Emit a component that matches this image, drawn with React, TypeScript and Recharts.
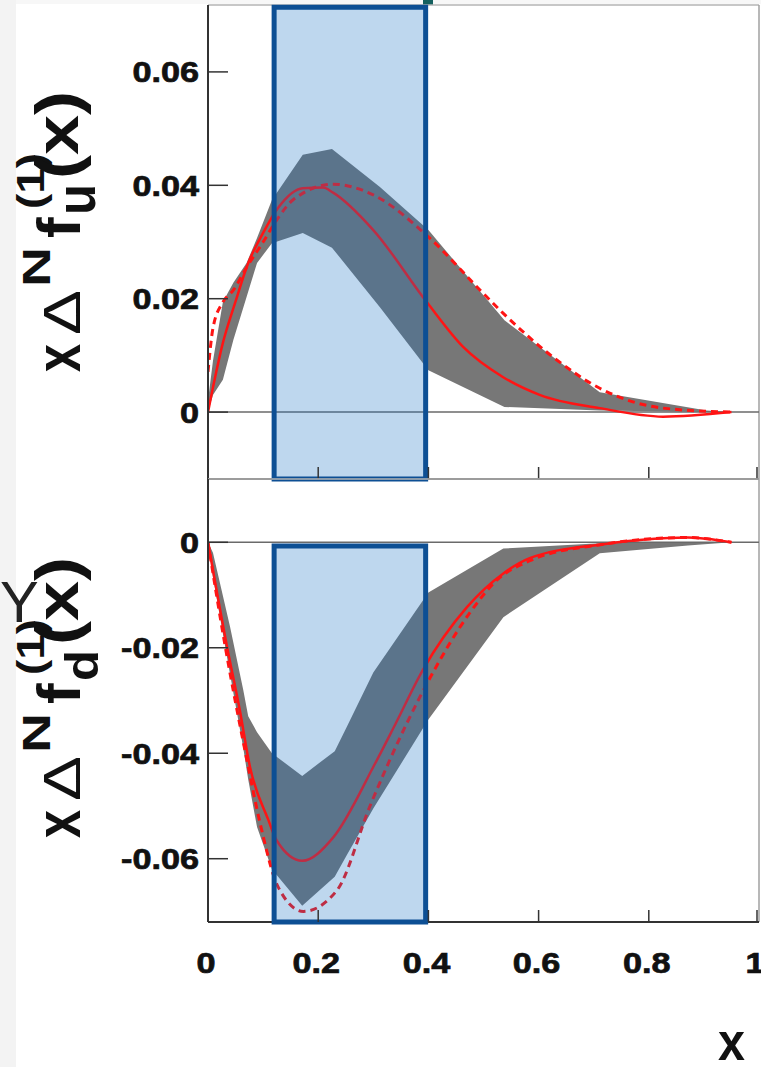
import React from 'react';
import { ComposedChart, Area, Line, XAxis, YAxis, ReferenceLine, ReferenceArea } from 'recharts';

// ---- u quark (upper panel) ----
const uBandX = [0, 0.009, 0.027, 0.046, 0.07, 0.089, 0.116, 0.172, 0.225, 0.312, 0.4, 0.538, 0.711, 0.905, 0.95];
const uBandLo = [0, 0.003, 0.0057, 0.0127, 0.0203, 0.0263, 0.0298, 0.0316, 0.029, 0.0185, 0.0074, 0.0009, 0.0003, 0, 0];
const uBandHi = [0.002, 0.009, 0.0194, 0.0228, 0.0263, 0.0307, 0.0374, 0.0454, 0.0464, 0.0397, 0.0321, 0.0162, 0.0035, 0.0003, 0];

const uSolidX = [0, 0.013, 0.027, 0.049, 0.073, 0.1, 0.127, 0.172, 0.209, 0.227, 0.3, 0.397, 0.463, 0.535, 0.603, 0.711, 0.826, 0.95];
const uSolidY = [0, 0.0062, 0.0122, 0.0192, 0.0263, 0.0316, 0.036, 0.0395, 0.0396, 0.0387, 0.0321, 0.0194, 0.0115, 0.0062, 0.003, 0.0007, -0.0008, 0];

const uDashX = [0, 0.009, 0.027, 0.046, 0.07, 0.1, 0.127, 0.154, 0.227, 0.3, 0.4, 0.494, 0.535, 0.633, 0.711, 0.826, 0.95];
const uDashY = [0.0071, 0.0148, 0.0194, 0.0215, 0.0255, 0.03, 0.0342, 0.0374, 0.0402, 0.0383, 0.0309, 0.0215, 0.0175, 0.0092, 0.0042, 0.0007, 0];

// ---- d quark (lower panel) ----
const dBandX = [0, 0.009, 0.04, 0.064, 0.073, 0.089, 0.116, 0.171, 0.23, 0.252, 0.3, 0.4, 0.536, 0.711, 0.871, 0.95];
const dBandHi = [0, -0.002, -0.016, -0.028, -0.033, -0.036, -0.04, -0.0443, -0.0396, -0.035, -0.0247, -0.0095, -0.0012, -0.0002, 0, 0];
const dBandLo = [0, -0.0066, -0.025, -0.039, -0.045, -0.054, -0.062, -0.0689, -0.0634, -0.0593, -0.0505, -0.0336, -0.0142, -0.0021, -0.0006, 0];

const dSolidX = [0, 0.034, 0.058, 0.076, 0.109, 0.125, 0.171, 0.227, 0.303, 0.34, 0.39, 0.47, 0.536, 0.584, 0.715, 0.87, 0.95];
const dSolidY = [0, -0.0195, -0.032, -0.0425, -0.0525, -0.0566, -0.0604, -0.056, -0.042, -0.0345, -0.0242, -0.0123, -0.0059, -0.003, -0.0004, 0.0009, 0];

const dDashX = [0, 0.03, 0.07, 0.094, 0.127, 0.173, 0.234, 0.294, 0.36, 0.403, 0.475, 0.524, 0.584, 0.715, 0.87, 0.95];
const dDashY = [0, -0.019, -0.041, -0.053, -0.0653, -0.07, -0.066, -0.05, -0.0345, -0.0257, -0.0134, -0.0072, -0.0035, -0.0004, 0.0009, 0];

// ---- axes ----
const xTicks = [0, 0.2, 0.4, 0.6, 0.8, 1];
const xTickLabels = ['0', '0.2', '0.4', '0.6', '0.8', '1'];
const uTicks = [0, 0.02, 0.04, 0.06];
const uTickLabels = ['0', '0.02', '0.04', '0.06'];
const dTicks = [-0.06, -0.04, -0.02, 0];
const dTickLabels = ['-0.06', '-0.04', '-0.02', '0'];
const uDomain = [-0.0118, 0.0718];
const dDomain = [-0.072, 0.012];
const highlight = [0.12, 0.395]; // shaded x-range

const FONT = '"Liberation Sans", Arial, sans-serif';
const RED = '#ff1414';
const BAND = '#777777';

const band = (xs: number[], lo: number[], hi: number[]) => xs.map((x, i) => ({ x, range: [lo[i], hi[i]] }));
const curve = (xs: number[], ys: number[]) => xs.map((x, i) => ({ x, y: ys[i] }));

const labelFor = (ticks: number[], labels: string[], v: number) => {
  const i = ticks.findIndex((t) => Math.abs(t - v) < 1e-9);
  return i >= 0 ? labels[i] : '';
};

const tickText = {
  fontFamily: FONT,
  fontWeight: 'bold',
  fontSize: 29,
  fill: '#111',
  stroke: '#111',
  strokeWidth: 0.7,
} as any;

const makeYTick = (ticks: number[], labels: string[]) => (props: any) => {
  const { x, y, payload } = props;
  return (
    <g>
      <line x1={x} x2={x + 20} y1={y} y2={y} stroke="#333" strokeWidth={1.5} />
      <text {...tickText} transform={`translate(${x - 9},${y}) scale(1.18,1)`} textAnchor="end" dy="0.36em">
        {labelFor(ticks, labels, payload.value)}
      </text>
    </g>
  );
};

const makeXTick = (showLabel: boolean) => (props: any) => {
  const { x, y, payload } = props;
  return (
    <g>
      <line x1={x} x2={x} y1={y} y2={y - 12} stroke="#333" strokeWidth={1.5} />
      {showLabel && (
        <text {...tickText} transform={`translate(${x - 2},${y + 51}) scale(1.18,1)`} textAnchor="middle">
          {labelFor(xTicks, xTickLabels, payload.value)}
        </text>
      )}
    </g>
  );
};

function AxisTitle({ ox, oy, sub, subSize, subY }: { ox: number; oy: number; sub: string; subSize: number; subY: number }) {
  const t = { fontFamily: FONT, fill: '#111' } as any;
  const s = { ...t, lengthAdjust: 'spacingAndGlyphs' } as any;
  return (
    <g transform={`translate(${ox},${oy}) rotate(-90)`}>
      <text {...s} x={0} y={0} fontSize={64} fontWeight="bold" textLength={28}>x</text>
      <text {...s} x={37} y={0} fontSize={52} textLength={45}>Δ</text>
      <text {...s} x={85} y={-30} fontSize={39} fontWeight="bold" textLength={40}>N</text>
      <text {...t} x={134} y={0} fontSize={62} fontWeight="bold">f</text>
      <text {...s} x={163} y={-36} fontSize={38} fontWeight="bold" textLength={56}>(1)</text>
      <text {...s} x={157} y={subY} fontSize={subSize} fontWeight="bold" textLength={31}>{sub}</text>
      <text {...s} x={193} y={-2} fontSize={62} fontWeight="bold" textLength={88}>(x)</text>
    </g>
  );
}

const Panel = ({
  top, height, margin, domain, ticks, tickLabels, bandData, solid, dash, rectTop, rectBottom, xLabels, xHeight, axisColor,
}: any) => (
  <div style={{ position: 'absolute', left: 0, top }}>
    <ComposedChart width={761} height={height} margin={margin}>
      <XAxis
        dataKey="x"
        type="number"
        domain={[0, 1]}
        ticks={xTicks}
        allowDataOverflow
        height={xHeight}
        tickSize={0}
        tickMargin={0}
        tickLine={false}
        tick={makeXTick(xLabels)}
        axisLine={{ stroke: axisColor, strokeWidth: 2 }}
      />
      <YAxis
        type="number"
        domain={domain}
        ticks={ticks}
        allowDataOverflow
        width={100}
        tickSize={0}
        tickMargin={0}
        tickLine={false}
        tick={makeYTick(ticks, tickLabels)}
        axisLine={{ stroke: '#333', strokeWidth: 2 }}
      />
      <ReferenceLine y={domain[1]} stroke="#b4b4b4" strokeWidth={1.5} />
      <ReferenceLine x={1} stroke="#a0a0a0" strokeWidth={1.5} />
      <ReferenceLine y={0} stroke="#6a6a6a" strokeWidth={1.5} />
      <Area
        data={bandData}
        dataKey="range"
        type="linear"
        stroke="none"
        fill={BAND}
        fillOpacity={1}
        isAnimationActive={false}
        dot={false}
        activeDot={false}
      />
      <Line data={solid} dataKey="y" type="monotone" stroke={RED} strokeWidth={2.5} dot={false} activeDot={false} isAnimationActive={false} />
      <Line data={dash} dataKey="y" type="monotone" stroke={RED} strokeWidth={3} strokeDasharray="7 5" dot={false} activeDot={false} isAnimationActive={false} />
      <ReferenceArea
        x1={highlight[0]}
        x2={highlight[1]}
        y1={rectBottom}
        y2={rectTop}
        ifOverflow="visible"
        fill="rgb(20,112,194)"
        fillOpacity={0.28}
        stroke="#0d4f94"
        strokeWidth={5}
        zIndex={600}
      />
    </ComposedChart>
  </div>
);

export default function App() {
  return (
    <div style={{ position: 'absolute', left: 0, top: 0, width: 761, height: 1067, background: '#fff', overflow: 'hidden' }}>
      <svg width={761} height={1067} style={{ position: 'absolute', left: 0, top: 0 }}>
        <rect x={0} y={0} width={16} height={1067} fill="#f3f3f3" />
        <rect x={16} y={0} width={745} height={4} fill="#f7f7f7" />
        <rect x={423} y={0} width={10} height={5} fill="#14605f" />
        <AxisTitle ox={80} oy={372} sub="u" subSize={56} subY={15} />
        <AxisTitle ox={80} oy={838} sub="d" subSize={46} subY={18} />
        <text x={0} y={622} fontFamily={FONT} fontSize={58} fill="#222">Y</text>
        <text x={718} y={1060} fontFamily={FONT} fontSize={54} fontWeight="bold" fill="#111" textLength={27} lengthAdjust="spacingAndGlyphs">x</text>
      </svg>
      <Panel
        top={0}
        height={482}
        margin={{ top: 5, right: 2, bottom: 0, left: 108 }}
        domain={uDomain}
        ticks={uTicks}
        tickLabels={uTickLabels}
        bandData={band(uBandX, uBandLo, uBandHi)}
        solid={curve(uSolidX, uSolidY)}
        dash={curve(uDashX, uDashY)}
        rectTop={0.0714}
        rectBottom={uDomain[0]}
        xLabels={false}
        xHeight={3}
        axisColor="#555"
      />
      <Panel
        top={470}
        height={530}
        margin={{ top: 9, right: 2, bottom: 18, left: 108 }}
        domain={dDomain}
        ticks={dTicks}
        tickLabels={dTickLabels}
        bandData={band(dBandX, dBandLo, dBandHi)}
        solid={curve(dSolidX, dSolidY)}
        dash={curve(dDashX, dDashY)}
        rectTop={-0.0007}
        rectBottom={dDomain[0]}
        xLabels={true}
        xHeight={60}
        axisColor="#333"
      />
    </div>
  );
}
